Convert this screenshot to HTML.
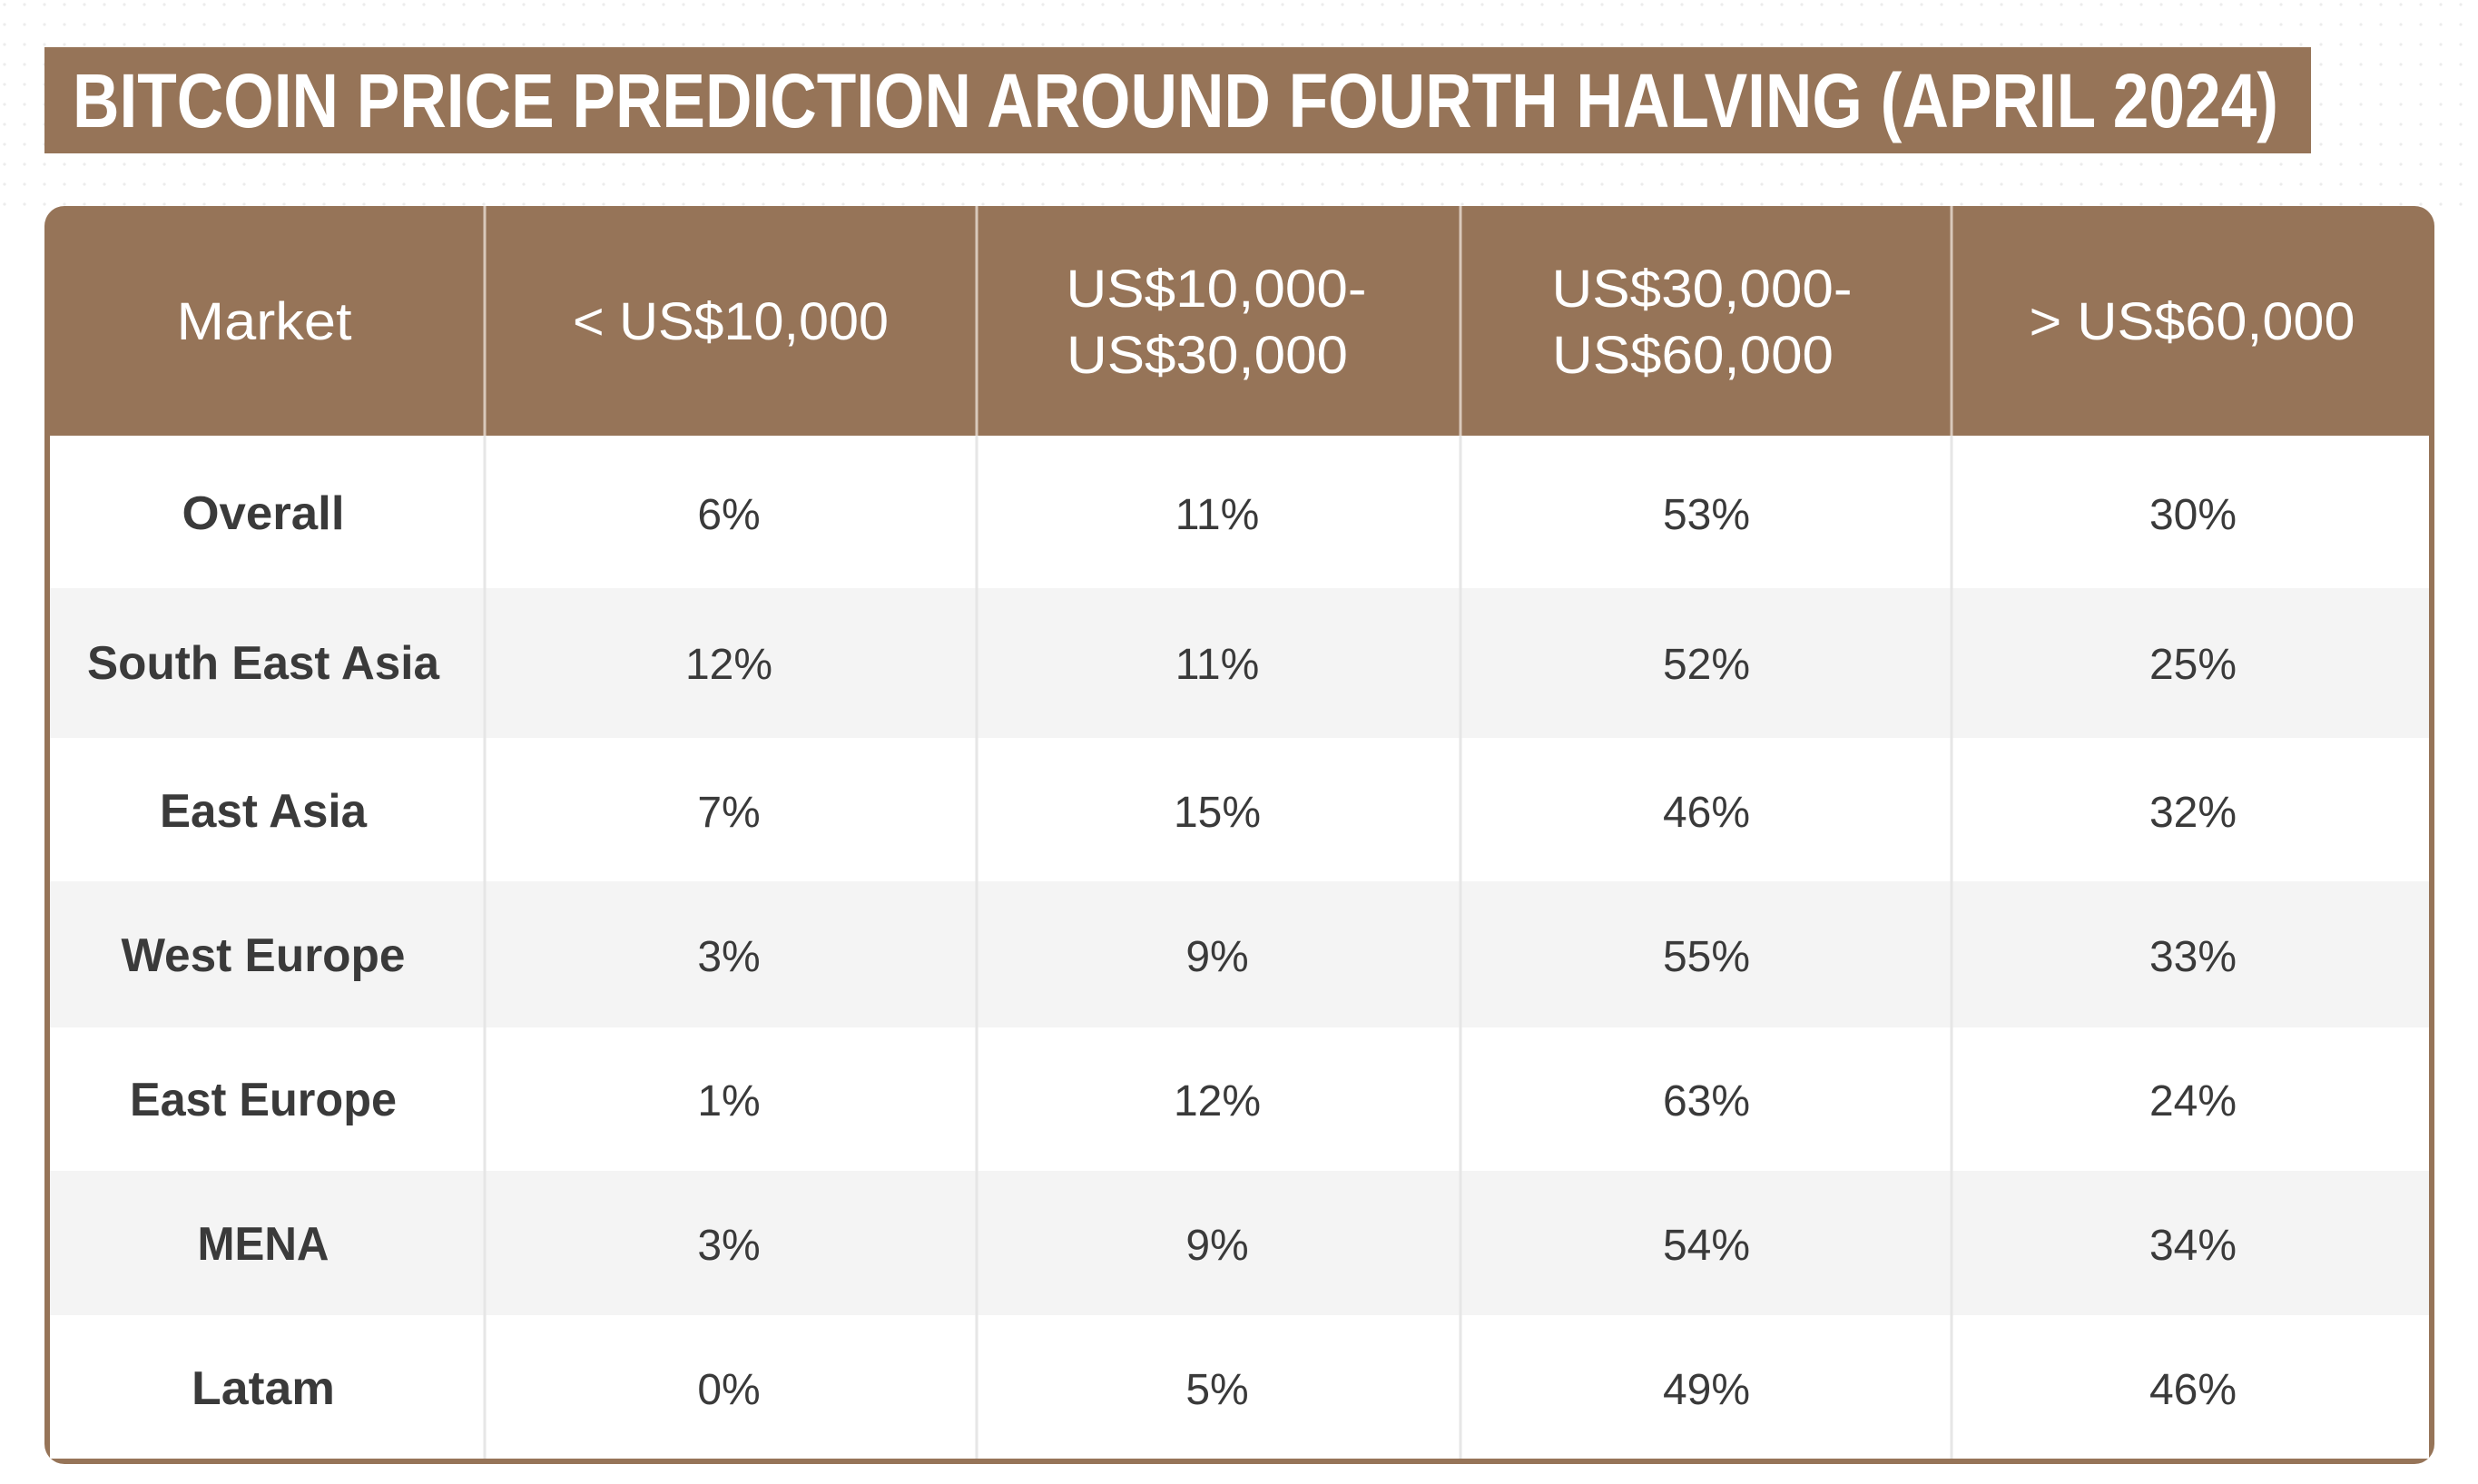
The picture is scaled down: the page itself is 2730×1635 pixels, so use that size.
<!DOCTYPE html>
<html><head><meta charset="utf-8"><style>html,body{margin:0;padding:0;background:#fff}svg{display:block}</style></head>
<body>
<svg width="2730" height="1635" viewBox="0 0 2730 1635" xmlns="http://www.w3.org/2000/svg" font-family="Liberation Sans, sans-serif">
<defs><pattern id="dots" width="22" height="22" patternUnits="userSpaceOnUse"><circle cx="5" cy="5" r="1.6" fill="#ececec"/></pattern>
<clipPath id="tc"><rect x="49" y="227" width="2633" height="1386" rx="22"/></clipPath></defs>
<rect x="0" y="0" width="2730" height="230" fill="url(#dots)"/>
<rect x="49" y="52" width="2497" height="117" fill="#967458"/>
<text x="80" y="140" font-size="84" font-weight="bold" fill="#fff" textLength="2430" lengthAdjust="spacingAndGlyphs">BITCOIN PRICE PREDICTION AROUND FOURTH HALVING (APRIL 2024)</text>
<g clip-path="url(#tc)">
<rect x="49" y="227" width="2633" height="1386" fill="#967458"/>
<rect x="55" y="480" width="2621" height="1127" fill="#fff"/>
<rect x="55" y="648" width="2621" height="165" fill="#f4f4f4"/>
<rect x="55" y="971" width="2621" height="161" fill="#f4f4f4"/>
<rect x="55" y="1290" width="2621" height="159" fill="#f4f4f4"/>
<g stroke="#e6e6e6" stroke-width="3"><line x1="534" y1="480" x2="534" y2="1607"/><line x1="1076" y1="480" x2="1076" y2="1607"/><line x1="1609" y1="480" x2="1609" y2="1607"/><line x1="2150" y1="480" x2="2150" y2="1607"/></g>
<g stroke="#d9c9bb" stroke-width="3"><line x1="534" y1="227" x2="534" y2="480"/><line x1="1076" y1="227" x2="1076" y2="480"/><line x1="1609" y1="227" x2="1609" y2="480"/><line x1="2150" y1="227" x2="2150" y2="480"/></g>
</g>
<g fill="#fff" font-size="58" text-anchor="middle" lengthAdjust="spacingAndGlyphs">
<text x="291" y="374" textLength="193" lengthAdjust="spacingAndGlyphs">Market</text>
<text x="805" y="374" textLength="348" lengthAdjust="spacingAndGlyphs">&lt; US$10,000</text>
<text x="1340" y="338" textLength="331" lengthAdjust="spacingAndGlyphs">US$10,000-</text>
<text x="1330" y="411" textLength="310" lengthAdjust="spacingAndGlyphs">US$30,000</text>
<text x="1875" y="338" textLength="331" lengthAdjust="spacingAndGlyphs">US$30,000-</text>
<text x="1865" y="411" textLength="310" lengthAdjust="spacingAndGlyphs">US$60,000</text>
<text x="2415" y="374" textLength="359" lengthAdjust="spacingAndGlyphs">&gt; US$60,000</text>
</g>
<g fill="#3a3a3a" font-size="52" font-weight="bold" text-anchor="middle">
<text x="290" y="583" textLength="179" lengthAdjust="spacingAndGlyphs">Overall</text>
<text x="290" y="748" textLength="388" lengthAdjust="spacingAndGlyphs">South East Asia</text>
<text x="290" y="911" textLength="228" lengthAdjust="spacingAndGlyphs">East Asia</text>
<text x="290" y="1070" textLength="313" lengthAdjust="spacingAndGlyphs">West Europe</text>
<text x="290" y="1229" textLength="294" lengthAdjust="spacingAndGlyphs">East Europe</text>
<text x="290" y="1388" textLength="145" lengthAdjust="spacingAndGlyphs">MENA</text>
<text x="290" y="1547" textLength="158" lengthAdjust="spacingAndGlyphs">Latam</text>
</g>
<g fill="#3a3a3a" font-size="48" text-anchor="middle">
<text x="803" y="583">6%</text><text x="1341" y="583">11%</text><text x="1880" y="583">53%</text><text x="2416" y="583">30%</text>
<text x="803" y="748">12%</text><text x="1341" y="748">11%</text><text x="1880" y="748">52%</text><text x="2416" y="748">25%</text>
<text x="803" y="911">7%</text><text x="1341" y="911">15%</text><text x="1880" y="911">46%</text><text x="2416" y="911">32%</text>
<text x="803" y="1070">3%</text><text x="1341" y="1070">9%</text><text x="1880" y="1070">55%</text><text x="2416" y="1070">33%</text>
<text x="803" y="1229">1%</text><text x="1341" y="1229">12%</text><text x="1880" y="1229">63%</text><text x="2416" y="1229">24%</text>
<text x="803" y="1388">3%</text><text x="1341" y="1388">9%</text><text x="1880" y="1388">54%</text><text x="2416" y="1388">34%</text>
<text x="803" y="1547">0%</text><text x="1341" y="1547">5%</text><text x="1880" y="1547">49%</text><text x="2416" y="1547">46%</text>
</g>
</svg>
</body></html>
